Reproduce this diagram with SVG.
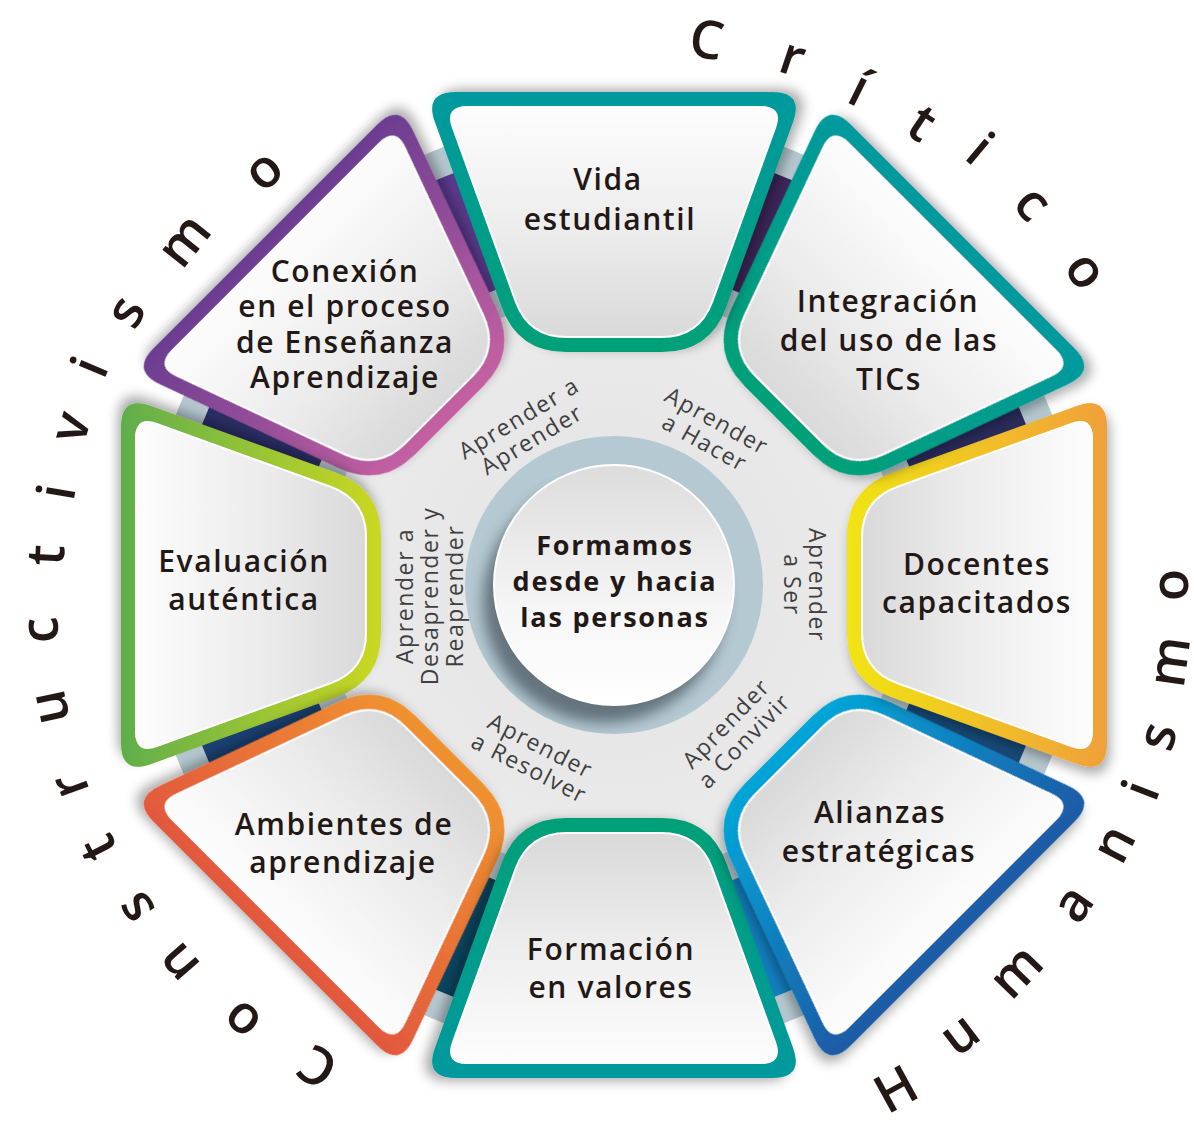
<svg xmlns="http://www.w3.org/2000/svg" width="1194" height="1121" viewBox="0 0 1194 1121">
<style>
.lbl{font-family:'Open Sans','Noto Sans','DejaVu Sans',sans-serif;font-size:30px;font-weight:600;fill:#231815;text-anchor:middle;letter-spacing:1.6px}
.sub{font-family:'Open Sans','Noto Sans','DejaVu Sans',sans-serif;font-size:23px;font-weight:500;fill:#3f3f3f;text-anchor:middle;letter-spacing:1.6px}
.ctr{font-family:'Open Sans','Noto Sans','DejaVu Sans',sans-serif;font-size:27px;font-weight:700;fill:#231815;text-anchor:middle;letter-spacing:1.8px}
.arc{font-family:'Open Sans','Noto Sans','DejaVu Sans',sans-serif;font-size:53px;font-weight:600;fill:#231815;text-anchor:middle}
.cap{fill:#b7c8d0}
</style>
<defs>
<path id="segO" d="M-158,-493 L158,-493 Q190,-493 179.1,-462.9 L112.3,-278.1 Q96,-233 48,-233 L-48,-233 Q-96,-233 -112.3,-278.1 L-179.1,-462.9 Q-190,-493 -158,-493 Z"/>
<path id="segI" d="M-146.6,-478 L146.6,-478 Q168.6,-478 161.1,-457.3 L98.3,-283.7 Q85.4,-248 47.4,-248 L-47.4,-248 Q-85.4,-248 -98.3,-283.7 L-161.1,-457.3 Q-168.6,-478 -146.6,-478 Z"/>
<linearGradient id="gTeal" x1="0" y1="0" x2="0" y2="1"><stop offset="0" stop-color="#00999e"/><stop offset="1" stop-color="#00a077"/></linearGradient>
<linearGradient id="gDoc" x1="0" y1="0" x2="0" y2="1"><stop offset="0" stop-color="#f0a03a"/><stop offset="1" stop-color="#f1e412"/></linearGradient>
<linearGradient id="gAli" x1="0" y1="0" x2="0" y2="1"><stop offset="0" stop-color="#1d5aa5"/><stop offset="1" stop-color="#02a6d8"/></linearGradient>
<linearGradient id="gAmb" x1="0" y1="0" x2="0" y2="1"><stop offset="0" stop-color="#e2583d"/><stop offset="1" stop-color="#f0922f"/></linearGradient>
<linearGradient id="gEva" x1="0" y1="0" x2="0" y2="1"><stop offset="0" stop-color="#5fae4b"/><stop offset="1" stop-color="#cbd822"/></linearGradient>
<linearGradient id="gCon" x1="0" y1="0" x2="0" y2="1"><stop offset="0" stop-color="#6b3d91"/><stop offset="1" stop-color="#c360a1"/></linearGradient>
<linearGradient id="gIn" x1="0" y1="0" x2="0" y2="1"><stop offset="0" stop-color="#fdfdfd"/><stop offset="0.55" stop-color="#ececec"/><stop offset="1" stop-color="#d9d9d9"/></linearGradient>
<linearGradient id="gCtr" x1="0" y1="0" x2="0" y2="1"><stop offset="0" stop-color="#dcdcdc"/><stop offset="0.6" stop-color="#f6f6f6"/><stop offset="1" stop-color="#ffffff"/></linearGradient>
<radialGradient id="gBg" cx="0.5" cy="0.5" r="0.5"><stop offset="0" stop-color="#e2e2e2"/><stop offset="0.8" stop-color="#ebebeb"/><stop offset="1" stop-color="#ffffff"/></radialGradient>
<filter id="sh" x="-30%" y="-30%" width="160%" height="160%"><feDropShadow dx="7" dy="-3" stdDeviation="6" flood-color="#000" flood-opacity="0.33"/></filter>
<filter id="blur" x="-30%" y="-30%" width="160%" height="160%"><feGaussianBlur stdDeviation="7"/></filter>
<clipPath id="ringClip"><circle cx="614" cy="585" r="149"/></clipPath>
</defs>
<rect width="1194" height="1121" fill="#ffffff"/>
<circle cx="614" cy="585" r="345" fill="url(#gBg)"/>

<g id="connectors">
<g transform="translate(614 585) rotate(-22.5)"><rect class="cap" x="-13" y="-470" width="26" height="180"/><rect x="-13" y="-442" width="26" height="124" fill="#5b3a8e"/></g>
<g transform="translate(614 585) rotate(22.5)"><rect class="cap" x="-13" y="-470" width="26" height="180"/><rect x="-13" y="-442" width="26" height="124" fill="#3d2559"/></g>
<g transform="translate(614 585) rotate(67.5)"><rect class="cap" x="-13" y="-470" width="26" height="180"/><rect x="-13" y="-442" width="26" height="124" fill="#2b2c5e"/></g>
<g transform="translate(614 585) rotate(112.5)"><rect class="cap" x="-13" y="-470" width="26" height="180"/><rect x="-13" y="-442" width="26" height="124" fill="#174a78"/></g>
<g transform="translate(614 585) rotate(157.5)"><rect class="cap" x="-13" y="-470" width="26" height="180"/><rect x="-13" y="-442" width="26" height="124" fill="#1380c2"/></g>
<g transform="translate(614 585) rotate(202.5)"><rect class="cap" x="-13" y="-470" width="26" height="180"/><rect x="-13" y="-442" width="26" height="124" fill="#0b4660"/></g>
<g transform="translate(614 585) rotate(247.5)"><rect class="cap" x="-13" y="-470" width="26" height="180"/><rect x="-13" y="-442" width="26" height="124" fill="#1b4274"/></g>
<g transform="translate(614 585) rotate(292.5)"><rect class="cap" x="-13" y="-470" width="26" height="180"/><rect x="-13" y="-442" width="26" height="124" fill="#2b2e66"/></g>
</g>

<g id="node-conexion">
<g transform="translate(614 585) rotate(315)" filter="url(#sh)"><use href="#segO" fill="url(#gCon)"/><use href="#segI" fill="url(#gIn)" stroke="#fff" stroke-width="2"/></g>
<text class="lbl"><tspan x="345" y="282">Conexión</tspan><tspan x="345" y="317">en el proceso</tspan><tspan x="345" y="353">de Enseñanza</tspan><tspan x="345" y="388">Aprendizaje</tspan></text>
</g>
<g id="node-evaluacion">
<g transform="translate(614 585) rotate(270)" filter="url(#sh)"><use href="#segO" fill="url(#gEva)"/><use href="#segI" fill="url(#gIn)" stroke="#fff" stroke-width="2"/></g>
<text class="lbl"><tspan x="244" y="572">Evaluación</tspan><tspan x="244" y="610">auténtica</tspan></text>
</g>
<g id="node-ambientes">
<g transform="translate(614 585) rotate(225)" filter="url(#sh)"><use href="#segO" fill="url(#gAmb)"/><use href="#segI" fill="url(#gIn)" stroke="#fff" stroke-width="2"/></g>
<text class="lbl"><tspan x="344" y="835">Ambientes de</tspan><tspan x="343" y="873">aprendizaje</tspan></text>
</g>
<g id="node-formacion">
<g transform="translate(614 585) rotate(180)" filter="url(#sh)"><use href="#segO" fill="url(#gTeal)"/><use href="#segI" fill="url(#gIn)" stroke="#fff" stroke-width="2"/></g>
<text class="lbl"><tspan x="611" y="960">Formación</tspan><tspan x="611" y="998">en valores</tspan></text>
</g>
<g id="node-alianzas">
<g transform="translate(614 585) rotate(135)" filter="url(#sh)"><use href="#segO" fill="url(#gAli)"/><use href="#segI" fill="url(#gIn)" stroke="#fff" stroke-width="2"/></g>
<text class="lbl"><tspan x="880" y="823">Alianzas</tspan><tspan x="879" y="862">estratégicas</tspan></text>
</g>
<g id="node-docentes">
<g transform="translate(614 585) rotate(90)" filter="url(#sh)"><use href="#segO" fill="url(#gDoc)"/><use href="#segI" fill="url(#gIn)" stroke="#fff" stroke-width="2"/></g>
<text class="lbl"><tspan x="977" y="575">Docentes</tspan><tspan x="977" y="613">capacitados</tspan></text>
</g>
<g id="node-integracion">
<g transform="translate(614 585) rotate(45)" filter="url(#sh)"><use href="#segO" fill="url(#gTeal)"/><use href="#segI" fill="url(#gIn)" stroke="#fff" stroke-width="2"/></g>
<text class="lbl"><tspan x="888" y="312">Integración</tspan><tspan x="889" y="351">del uso de las</tspan><tspan x="889" y="390">TICs</tspan></text>
</g>
<g id="node-vida">
<g transform="translate(614 585)" filter="url(#sh)"><use href="#segO" fill="url(#gTeal)"/><use href="#segI" fill="url(#gIn)" stroke="#fff" stroke-width="2"/></g>
<text class="lbl"><tspan x="608" y="190">Vida</tspan><tspan x="610" y="230">estudiantil</tspan></text>
</g>

<g id="node-centro">
<circle cx="614" cy="585" r="149" fill="#b5c9d3"/>
<g clip-path="url(#ringClip)"><circle cx="604" cy="602" r="121" fill="#56656e" opacity="0.85" filter="url(#blur)"/></g>
<circle cx="614" cy="585" r="120" fill="url(#gCtr)" stroke="#ffffff" stroke-width="2"/>
<text class="ctr"><tspan x="615" y="555">Formamos</tspan><tspan x="615" y="591">desde y hacia</tspan><tspan x="615" y="627">las personas</tspan></text>
</g>

<g id="pilares">
<text class="sub" transform="translate(523 425) rotate(-31)"><tspan x="0" y="0">Aprender a</tspan><tspan x="0" y="25">Aprender</tspan></text>
<text class="sub" transform="translate(713 428) rotate(29)"><tspan x="0" y="0">Aprender</tspan><tspan x="0" y="25">a Hacer</tspan></text>
<text class="sub" transform="translate(809 585) rotate(90)"><tspan x="0" y="0">Aprender</tspan><tspan x="0" y="25">a Ser</tspan></text>
<text class="sub" transform="translate(732 729) rotate(-46)"><tspan x="0" y="0">Aprender</tspan><tspan x="0" y="25">a Convivir</tspan></text>
<text class="sub" transform="translate(537 753) rotate(27)"><tspan x="0" y="0">Aprender</tspan><tspan x="0" y="25">a Resolver</tspan></text>
<text class="sub" transform="translate(413 596) rotate(-90)"><tspan x="0" y="0">Aprender a</tspan><tspan x="0" y="25">Desaprender y</tspan><tspan x="0" y="50">Reaprender</tspan></text>
</g>

<g id="arco-critico">
<text class="arc" transform="translate(707 38) rotate(9.6)" y="20">C</text>
<text class="arc" transform="translate(792 60) rotate(18.7)" y="15">r</text>
<text class="arc" transform="translate(858 91) rotate(26.3)" y="15">í</text>
<text class="arc" transform="translate(922 123) rotate(33.7)" y="18">t</text>
<text class="arc" transform="translate(980 149) rotate(40)" y="18">i</text>
<text class="arc" transform="translate(1031 205) rotate(47.7)" y="15">c</text>
<text class="arc" transform="translate(1084 272) rotate(56.6)" y="15">o</text>
</g>
<g id="arco-humanismo">
<text class="arc" transform="translate(895 1088) rotate(-28.7)" y="20">H</text>
<text class="arc" transform="translate(961 1036) rotate(-37.3)" y="15">u</text>
<text class="arc" transform="translate(1018 973) rotate(-46.2)" y="15">m</text>
<text class="arc" transform="translate(1075 905) rotate(-55.4)" y="15">a</text>
<text class="arc" transform="translate(1116 845) rotate(-62.8)" y="15">n</text>
<text class="arc" transform="translate(1141 790) rotate(-68.9)" y="18">i</text>
<text class="arc" transform="translate(1160 737) rotate(-74.5)" y="15">s</text>
<text class="arc" transform="translate(1172 662) rotate(-82.2)" y="15">m</text>
<text class="arc" transform="translate(1173 585) rotate(-90)" y="15">o</text>
</g>
<g id="arco-constructivismo">
<text class="arc" transform="translate(317 1068) rotate(211.5)" y="20">C</text>
<text class="arc" transform="translate(243 1019) rotate(220.5)" y="15">o</text>
<text class="arc" transform="translate(180 962) rotate(228.9)" y="15">n</text>
<text class="arc" transform="translate(137 907) rotate(236)" y="15">s</text>
<text class="arc" transform="translate(98 848) rotate(243)" y="18">t</text>
<text class="arc" transform="translate(72 785) rotate(249.7)" y="15">r</text>
<text class="arc" transform="translate(52 707) rotate(257.8)" y="15">u</text>
<text class="arc" transform="translate(43 630) rotate(265.5)" y="15">c</text>
<text class="arc" transform="translate(46 555) rotate(273)" y="18">t</text>
<text class="arc" transform="translate(57 492) rotate(279.5)" y="18">i</text>
<text class="arc" transform="translate(73 428) rotate(286.2)" y="15">v</text>
<text class="arc" transform="translate(90 367) rotate(292.6)" y="18">i</text>
<text class="arc" transform="translate(128 313) rotate(299.2)" y="15">s</text>
<text class="arc" transform="translate(186 242) rotate(308.7)" y="15">m</text>
<text class="arc" transform="translate(265 172) rotate(319.8)" y="15">o</text>
</g>
</svg>
